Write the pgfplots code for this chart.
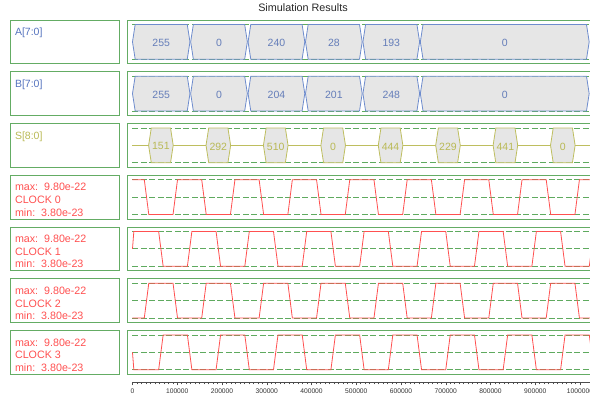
\documentclass[border=0pt]{standalone}
\usepackage{pgfplots}
\usepackage{pgfplotstable}
\pgfplotsset{compat=1.18}
\usepackage{fontspec}
\setmainfont{Liberation Sans}
\definecolor{boxgreen}{RGB}{100,172,100}
\definecolor{dashgreen}{RGB}{95,170,95}
\definecolor{busblue}{RGB}{110,140,205}
\definecolor{busfill}{RGB}{230,230,230}
\definecolor{bustext}{RGB}{100,125,185}
\definecolor{olivec}{RGB}{190,190,95}
\definecolor{olivetext}{RGB}{185,185,85}
\definecolor{clkred}{RGB}{255,80,80}
\definecolor{labblue}{RGB}{85,115,190}

\pgfplotstableread{
x y
0 1
26400 1
36400 0
90600 0
100600 1
154700 1
164700 0
218900 0
228900 1
283000 1
293000 0
347200 0
357200 1
411300 1
421300 0
475500 0
485500 1
539600 1
549600 0
603800 0
613800 1
667900 1
677900 0
732100 0
742100 1
796200 1
806200 0
860400 0
870400 1
924500 1
934500 0
988700 0
998700 1
1052800 1
1062800 0
}\clkzero

\pgfplotstableread{
x y
0 0.5
3000 1
58500 1
68500 0
122700 0
132700 1
186800 1
196800 0
251000 0
261000 1
315100 1
325100 0
379300 0
389300 1
443400 1
453400 0
507600 0
517600 1
571700 1
581700 0
635900 0
645900 1
700000 1
710000 0
764200 0
774200 1
828300 1
838300 0
892500 0
902500 1
956600 1
966600 0
1020800 0
1030800 1
1080000 1
}\clkone

\pgfplotsset{
  panel/.style={scale only axis, width=467.3pt, height=43.7pt,
    xmin=-10700, xmax=1033500, ymin=-0.13, ymax=1.13,
    xtick=\empty, ytick=\empty,
    axis line style={boxgreen, line width=0.9pt}, anchor=north west},
  dashg/.style={dashgreen, line width=0.8pt, dash pattern=on 6pt off 2.5pt},
  bus/.style={draw=busblue, fill=busfill, line width=0.8pt},
  hex/.style={draw=olivec, fill=busfill, line width=0.8pt},
  clk/.style={clkred, line width=0.8pt},
}
\newcommand{\valfont}{\fontsize{10.5}{12}\selectfont}
\newcommand{\busshapes}{%
\addplot[dashg] coordinates {(0,1)(1100000,1)};
\addplot[dashg] coordinates {(0,0)(1100000,0)};
\addplot[bus] coordinates {(0,0.5)(6000,1)(122400,1)(128400,0.5)(122400,0)(6000,0)} --cycle;
\addplot[bus] coordinates {(130000,0.5)(136000,1)(250700,1)(256700,0.5)(250700,0)(136000,0)} --cycle;
\addplot[bus] coordinates {(258300,0.5)(264300,1)(379000,1)(385000,0.5)(379000,0)(264300,0)} --cycle;
\addplot[bus] coordinates {(386600,0.5)(392600,1)(507300,1)(513300,0.5)(507300,0)(392600,0)} --cycle;
\addplot[bus] coordinates {(514900,0.5)(520900,1)(635600,1)(641600,0.5)(635600,0)(520900,0)} --cycle;
\addplot[bus] coordinates {(643200,0.5)(649200,1)(1014500,1)(1020500,0.5)(1014500,0)(649200,0)} --cycle;
}
\newcommand{\buslabels}[6]{%
\node[text=bustext, font=\valfont] at (axis cs:64200,0.47) {#1};
\node[text=bustext, font=\valfont] at (axis cs:193350,0.47) {#2};
\node[text=bustext, font=\valfont] at (axis cs:321650,0.47) {#3};
\node[text=bustext, font=\valfont] at (axis cs:449950,0.47) {#4};
\node[text=bustext, font=\valfont] at (axis cs:578250,0.47) {#5};
\node[text=bustext, font=\valfont] at (axis cs:832000,0.47) {#6};
}
\newcommand{\clkdash}{%
\addplot[dashg] coordinates {(0,1)(1100000,1)};
\addplot[dashg] coordinates {(0,0.5)(1100000,0.5)};
\addplot[dashg] coordinates {(0,0)(1100000,0)};
}

\begin{document}
\begin{tikzpicture}
\useasboundingbox (0pt,0pt) rectangle (590pt,-396pt);
\begin{scope}[x=1pt,y=1pt]
\node[font=\fontsize{10.8}{12}\selectfont, text=black!85] at (303,-8) {Simulation Results};

\foreach \yt in {20,71.75,123.5,175.25,227,278.75,330.5}
  \draw[boxgreen, line width=0.9pt] (10.5,-\yt) rectangle (119.5,-\yt-43.7);

\node[anchor=north west, text=labblue, font=\valfont] at (11.5,-24.5) {A[7:0]};
\node[anchor=north west, text=labblue, font=\valfont] at (11.5,-76.25) {B[7:0]};
\node[anchor=north west, text=olivetext, font=\valfont] at (11.5,-128) {S[8:0]};
\foreach \yt/\n in {175.25/0,227/1,278.75/2,330.5/3}
  \node[anchor=west, align=left, text=clkred, font=\fontsize{10.7}{12.7}\selectfont]
    at (11.5,-\yt-24.6) {max:\ \ 9.80e-22\\CLOCK \n\\min:\ \ 3.80e-23};
\end{scope}

% A bus
\begin{axis}[panel, at={(127.7pt,-20pt)}]
\busshapes
\buslabels{255}{0}{240}{28}{193}{0}
\end{axis}
% B bus
\begin{axis}[panel, at={(127.7pt,-71.75pt)}]
\busshapes
\buslabels{255}{0}{204}{201}{248}{0}
\end{axis}
% S bus
\begin{axis}[panel, at={(127.7pt,-123.5pt)}]
\addplot[dashg] coordinates {(0,1)(1100000,1)};
\addplot[dashg] coordinates {(0,0)(1100000,0)};
\addplot[olivec, line width=0.8pt] coordinates {(0,0.5)(1100000,0.5)};
\addplot[hex] coordinates {(36000,0.5)(42000,1)(85000,1)(91000,0.5)(85000,0)(42000,0)} --cycle;
\addplot[hex] coordinates {(164300,0.5)(170300,1)(213300,1)(219300,0.5)(213300,0)(170300,0)} --cycle;
\addplot[hex] coordinates {(292600,0.5)(298600,1)(341600,1)(347600,0.5)(341600,0)(298600,0)} --cycle;
\addplot[hex] coordinates {(420900,0.5)(426900,1)(469900,1)(475900,0.5)(469900,0)(426900,0)} --cycle;
\addplot[hex] coordinates {(549200,0.5)(555200,1)(598200,1)(604200,0.5)(598200,0)(555200,0)} --cycle;
\addplot[hex] coordinates {(677500,0.5)(683500,1)(726500,1)(732500,0.5)(726500,0)(683500,0)} --cycle;
\addplot[hex] coordinates {(805800,0.5)(811800,1)(854800,1)(860800,0.5)(854800,0)(811800,0)} --cycle;
\addplot[hex] coordinates {(934100,0.5)(940100,1)(983100,1)(989100,0.5)(983100,0)(940100,0)} --cycle;
\node[text=olivetext, font=\valfont] at (axis cs:63500,0.47) {151};
\node[text=olivetext, font=\valfont] at (axis cs:191800,0.47) {292};
\node[text=olivetext, font=\valfont] at (axis cs:320100,0.47) {510};
\node[text=olivetext, font=\valfont] at (axis cs:448400,0.47) {0};
\node[text=olivetext, font=\valfont] at (axis cs:576700,0.47) {444};
\node[text=olivetext, font=\valfont] at (axis cs:705000,0.47) {229};
\node[text=olivetext, font=\valfont] at (axis cs:833300,0.47) {441};
\node[text=olivetext, font=\valfont] at (axis cs:961600,0.47) {0};
\end{axis}
% CLOCK 0
\begin{axis}[panel, at={(127.7pt,-175.25pt)}]
\clkdash
\addplot[clk] table[x=x, y=y] {\clkzero};
\end{axis}
% CLOCK 1
\begin{axis}[panel, at={(127.7pt,-227pt)}]
\clkdash
\addplot[clk] table[x=x, y=y] {\clkone};
\end{axis}
% CLOCK 2
\begin{axis}[panel, at={(127.7pt,-278.75pt)}]
\clkdash
\addplot[clk] table[x=x, y expr=1-\thisrow{y}] {\clkzero};
\end{axis}
% CLOCK 3
\begin{axis}[panel, at={(127.7pt,-330.5pt)}]
\clkdash
\addplot[clk] table[x=x, y expr=1-\thisrow{y}] {\clkone};
\end{axis}

% time axis
\begin{axis}[scale only axis, width=462.5pt, height=10pt,
  at={(132.5pt,-382.3pt)}, anchor=south west,
  xmin=0, xmax=1033500, ymin=0, ymax=1,
  axis x line=bottom, axis y line=none,
  axis line style={black!70, line width=0.6pt, -},
  tick align=outside,
  xtick={0,100000,...,1000000}, minor x tick num=9,
  major tick length=3pt, minor tick length=2pt,
  tick style={black!70, line width=0.5pt},
  scaled x ticks=false,
  xticklabel style={font=\fontsize{6.7}{7}\selectfont, text=black!80},
  /pgf/number format/.cd, fixed, 1000 sep={}, assume math mode=true]
\addplot[draw=none] coordinates {(0,0)(1000000,0)};
\end{axis}
\end{tikzpicture}
\end{document}
